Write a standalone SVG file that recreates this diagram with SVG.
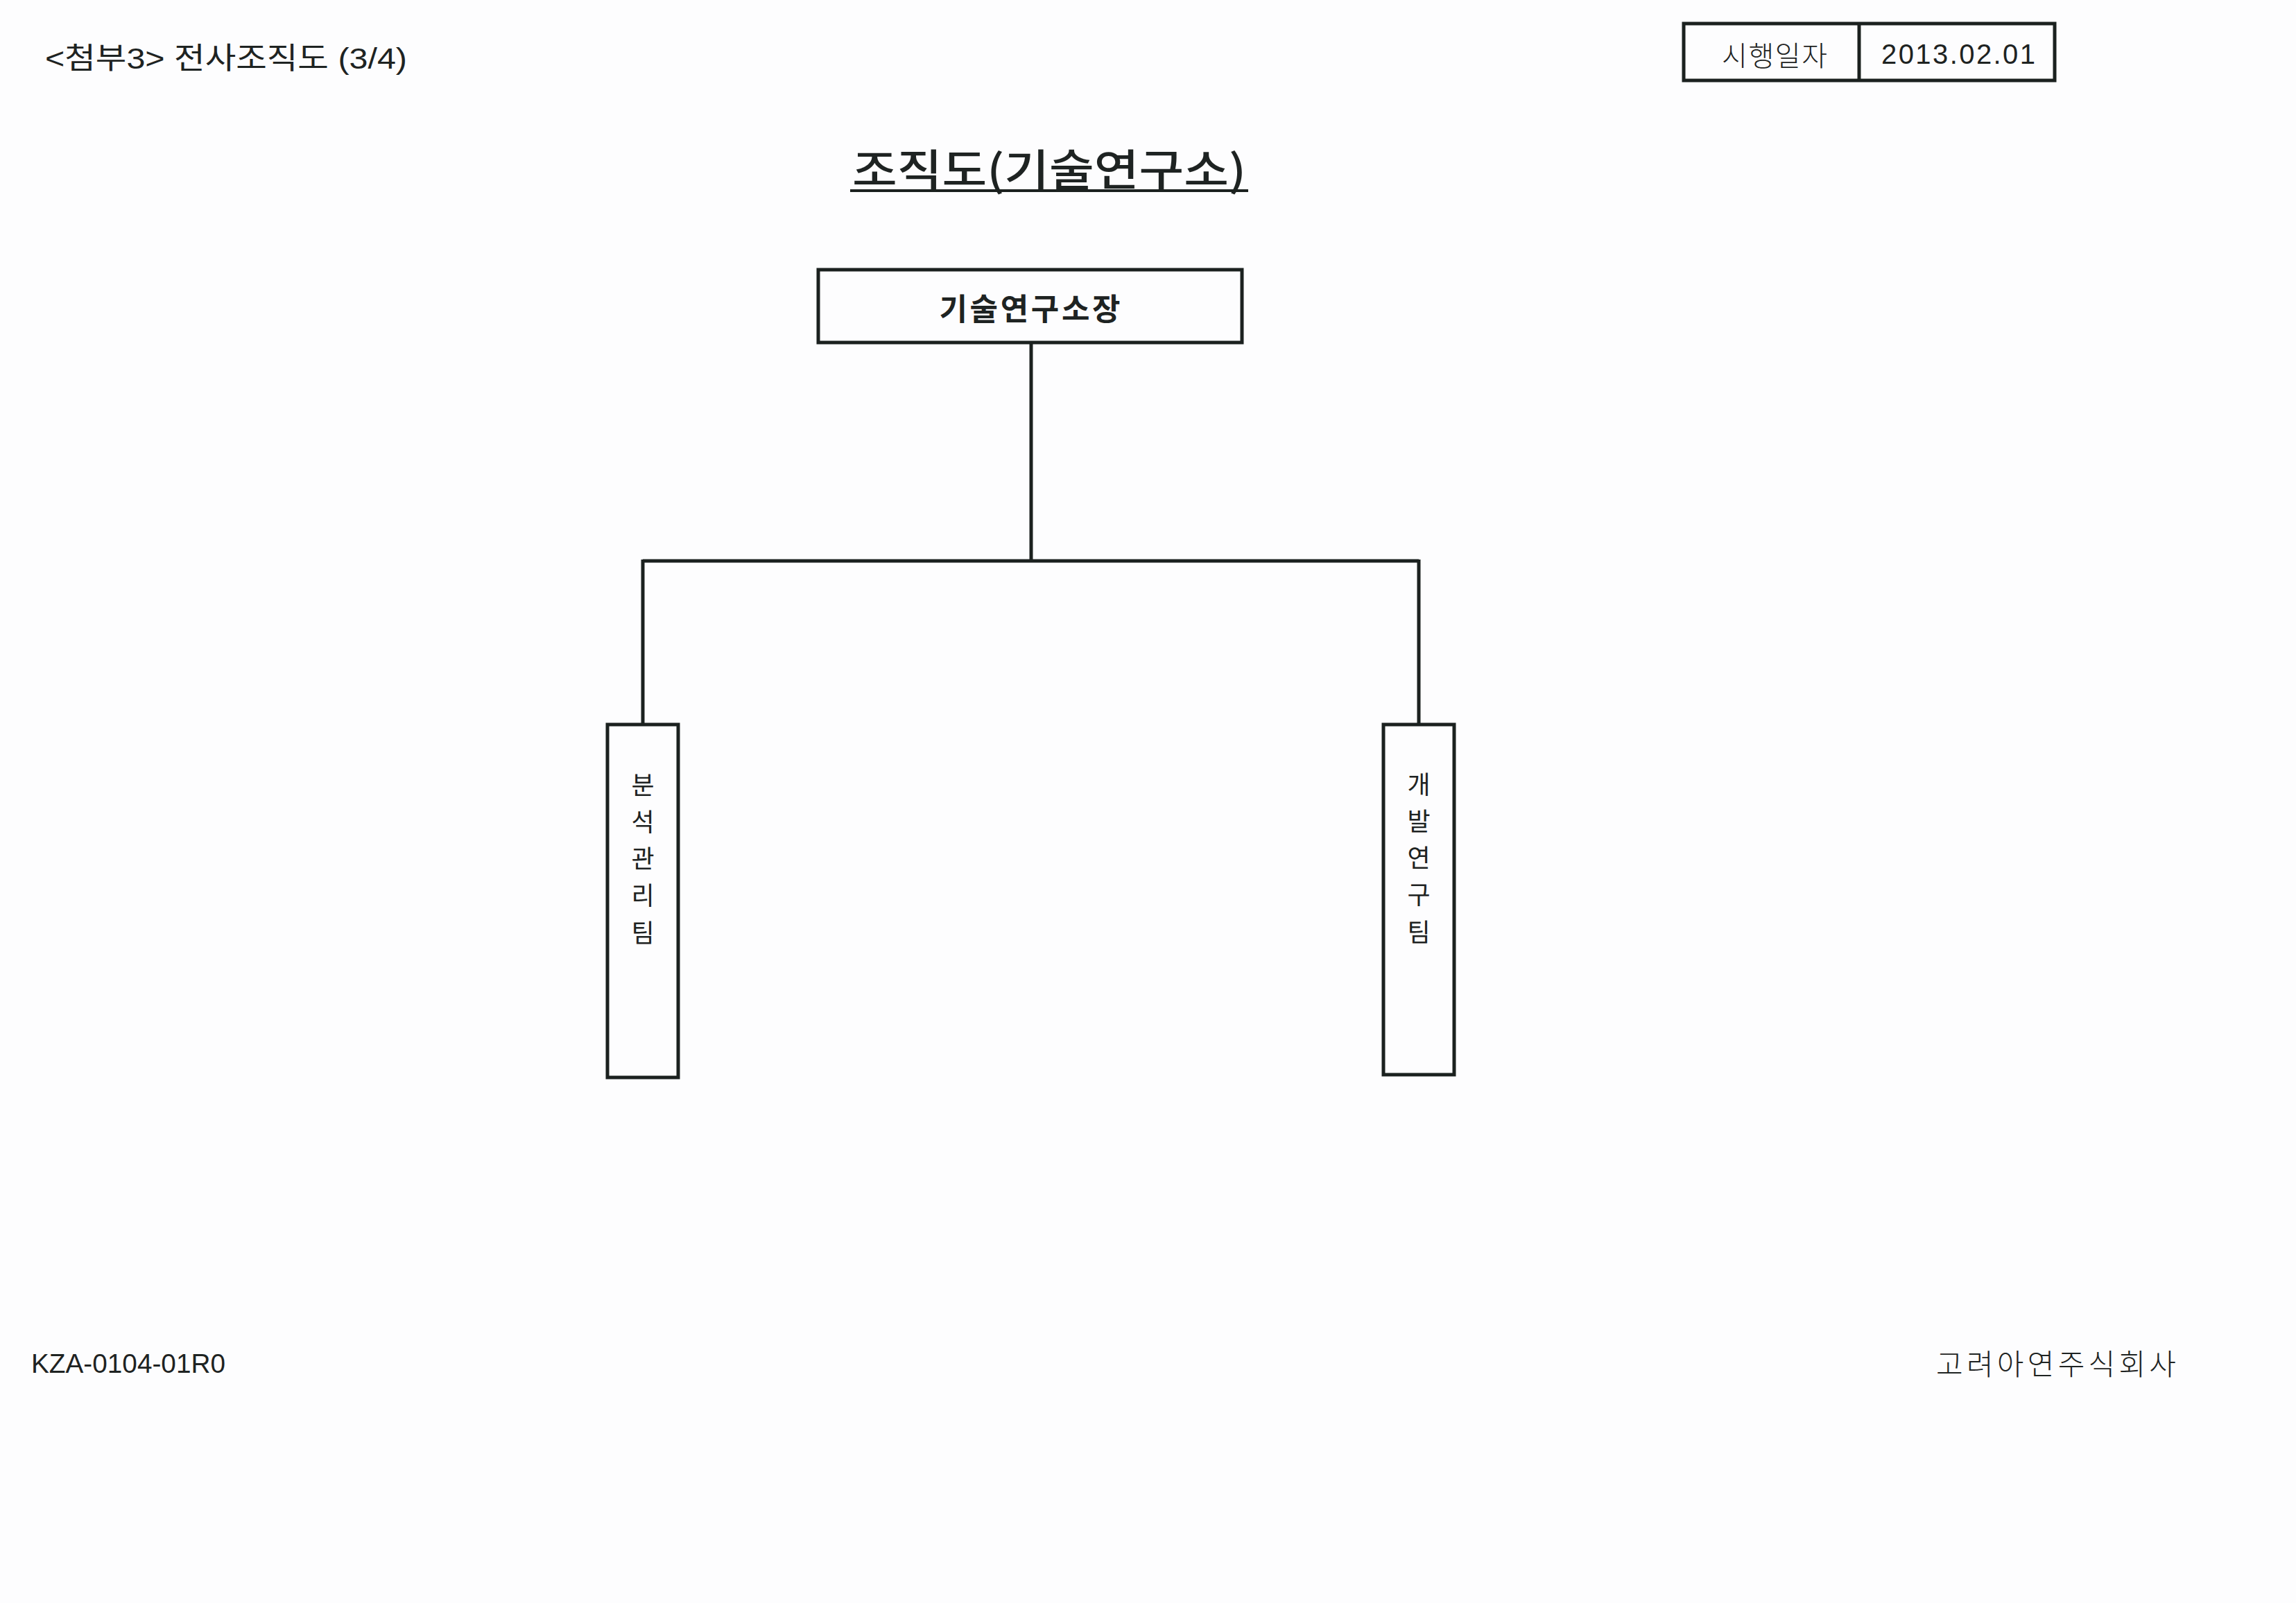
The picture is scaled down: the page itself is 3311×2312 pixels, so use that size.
<svg xmlns="http://www.w3.org/2000/svg" width="3311" height="2312" viewBox="0 0 3311 2312">
<style>
.t{font-family:"Liberation Sans","Noto Sans CJK KR",sans-serif;fill:#1e2322;dominant-baseline:central}
.k{font-family:"Noto Sans CJK KR",sans-serif;fill:#1e2322;dominant-baseline:central}
.box{fill:none;stroke:#1b211f;stroke-width:5}
.ln{fill:none;stroke:#1b211f;stroke-width:5}
</style>
<rect x="0" y="0" width="3311" height="2312" fill="#fdfdfe"/>
<g id="header">
<text class="t" x="65" y="84" font-size="43" textLength="522" lengthAdjust="spacingAndGlyphs">&lt;첨부3&gt; 전사조직도 (3/4)</text>
</g>
<g id="date-box">
<rect class="box" x="2428" y="34" width="535" height="82"/>
<line class="ln" x1="2681" y1="34" x2="2681" y2="116"/>
<text class="k" x="2483" y="78" font-size="40" font-weight="300" textLength="152" lengthAdjust="spacing">시행일자</text>
<text class="t" x="2713" y="78" font-size="40" textLength="222" lengthAdjust="spacing">2013.02.01</text>
</g>
<g id="title">
<text class="k" x="1229" y="241" font-size="62" font-weight="500" textLength="568" lengthAdjust="spacingAndGlyphs">조직도(기술연구소)</text>
<line x1="1226" y1="275" x2="1800" y2="275" stroke="#1b211f" stroke-width="4"/>
</g>
<g id="connectors">
<path class="ln" d="M1487 494 V809 M927 809 H2046 M927 807 V1045 M2046 807 V1045"/>
</g>
<g id="node-director">
<rect class="box" x="1180" y="389" width="611" height="105"/>
<text class="k" x="1485" y="443" font-size="44" font-weight="700" text-anchor="middle" textLength="261" lengthAdjust="spacing">기술연구소장</text>
</g>
<g id="node-analysis">
<rect class="box" x="876" y="1045" width="102" height="509"/>
<text class="k" x="927" y="1130" font-size="36" text-anchor="middle">분</text>
<text class="k" x="927" y="1183" font-size="36" text-anchor="middle">석</text>
<text class="k" x="927" y="1236" font-size="36" text-anchor="middle">관</text>
<text class="k" x="927" y="1289" font-size="36" text-anchor="middle">리</text>
<text class="k" x="927" y="1343" font-size="36" text-anchor="middle">팀</text>
</g>
<g id="node-dev">
<rect class="box" x="1995" y="1045" width="102" height="505"/>
<text class="k" x="2046" y="1129" font-size="36" text-anchor="middle">개</text>
<text class="k" x="2046" y="1182" font-size="36" text-anchor="middle">발</text>
<text class="k" x="2046" y="1235" font-size="36" text-anchor="middle">연</text>
<text class="k" x="2046" y="1288" font-size="36" text-anchor="middle">구</text>
<text class="k" x="2046" y="1342" font-size="36" text-anchor="middle">팀</text>
</g>
<g id="footer">
<text class="t" x="45" y="1966" font-size="39" textLength="280" lengthAdjust="spacingAndGlyphs">KZA-0104-01R0</text>
<text class="k" x="2792" y="1964" font-size="42" font-weight="300" textLength="346" lengthAdjust="spacing">고려아연주식회사</text>
</g>
</svg>
